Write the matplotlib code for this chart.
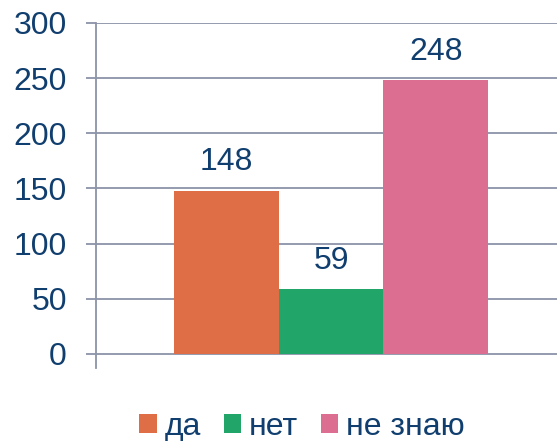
import matplotlib
matplotlib.use("Agg")
import matplotlib.pyplot as plt
from matplotlib.patches import Patch

# data
series = ["да", "нет", "не знаю"]
values = [148, 59, 248]
colors = ["#DF6E47", "#21A568", "#DC6E91"]
y_ticks = [0, 50, 100, 150, 200, 250, 300]

text_color = "#103E6E"
grid_color = "#8C93A8"

plt.rcParams["font.family"] = ["Liberation Sans", "DejaVu Sans"]

fig = plt.figure(figsize=(5.57, 4.41), dpi=100)
ax = fig.add_axes([96 / 557, 73 / 441, 461 / 557, 345 / 441])

positions = [-1, 0, 1]
bars = ax.bar(positions, values, width=1.0, color=colors, zorder=3)
for rect, v in zip(bars, values):
    ax.text(rect.get_x() + rect.get_width() / 2, v + 12, str(v),
            ha="center", va="bottom", fontsize=23, color=text_color)

ax.set_xlim(-2.245, 2.159)
ax.set_ylim(-12.7, 300)
ax.set_yticks(y_ticks)
ax.set_xticks([])
ax.yaxis.grid(True, color=grid_color, linewidth=1.3, zorder=0)
ax.tick_params(axis="y", length=7, width=1.3, color=grid_color,
               labelsize=23, labelcolor=text_color, pad=14)
for side in ["top", "right", "bottom"]:
    ax.spines[side].set_visible(False)
ax.spines["left"].set_color(grid_color)
ax.spines["left"].set_linewidth(1.3)

handles = [Patch(facecolor=c, edgecolor="none") for c in colors]
fig.legend(handles, series, loc="center", bbox_to_anchor=(302 / 557, 1 - 427 / 441),
           ncol=3, frameon=False, fontsize=23, labelcolor=text_color,
           handlelength=0.55, handleheight=0.55, handletextpad=0.25, columnspacing=0.7)

fig.savefig("out.png", dpi=100)
